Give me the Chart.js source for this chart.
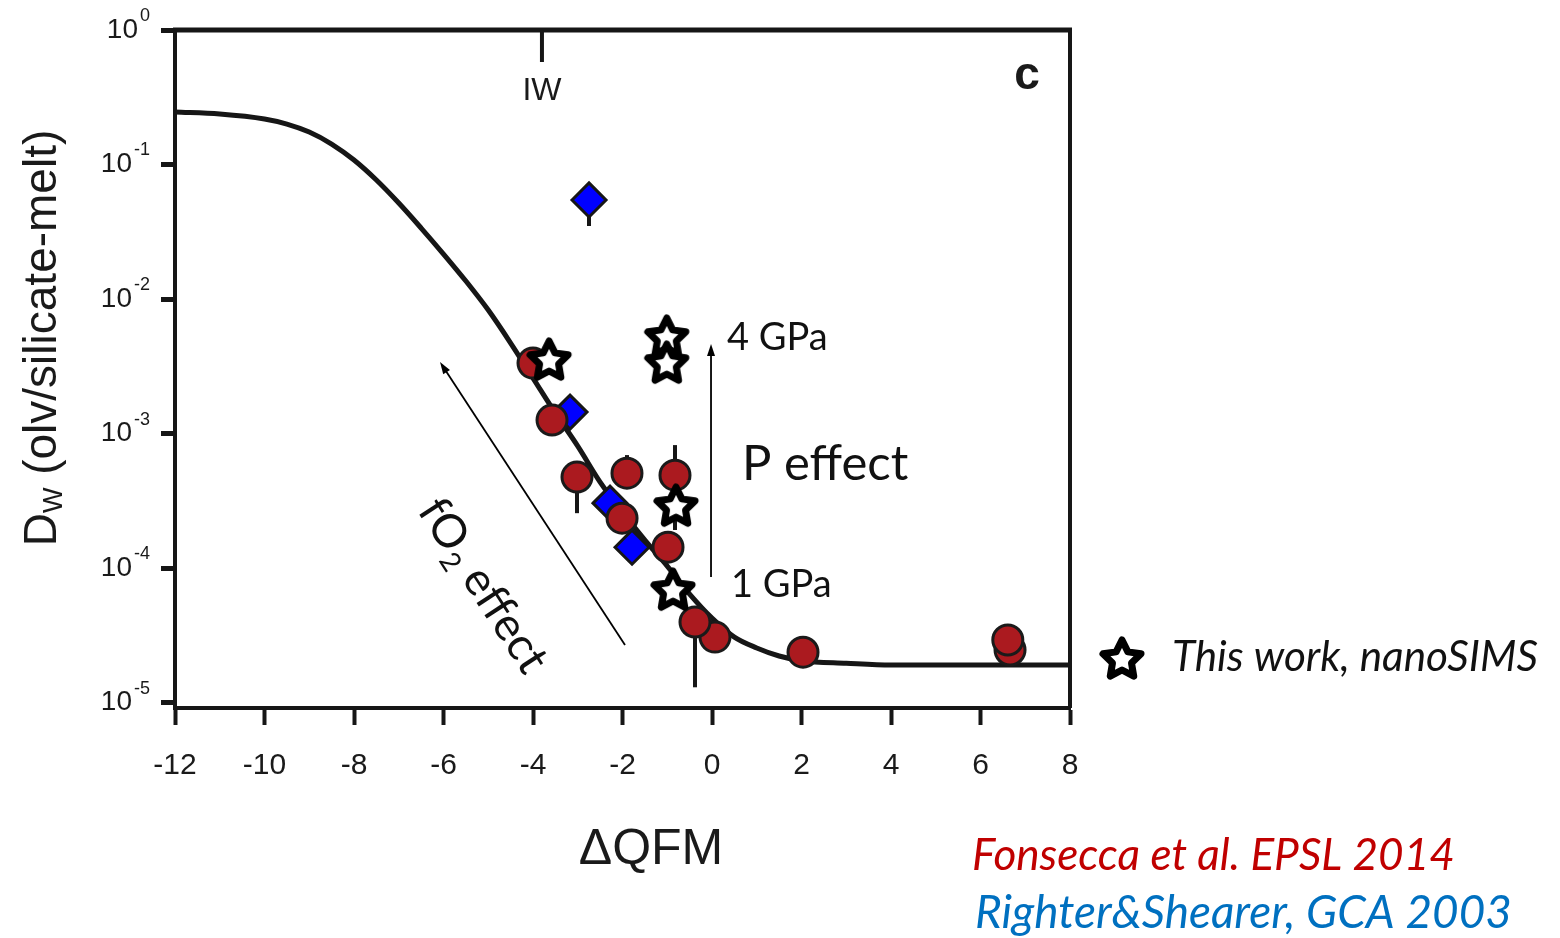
<!DOCTYPE html>
<html><head><meta charset="utf-8">
<script src="https://cdn.jsdelivr.net/npm/chart.js@4.4.1/dist/chart.umd.min.js"></script>
<style>html,body{margin:0;padding:0;background:#fff;}#wrap{position:relative;width:1560px;height:938px;}</style>
</head><body><div id="wrap"><canvas id="c"></canvas></div>
<script>
// ---------------- data ----------------
const xTicks = [-12, -10, -8, -6, -4, -2, 0, 2, 4, 6, 8];
const yTicks = [1e-5, 1e-4, 1e-3, 1e-2, 1e-1, 1];

// model curve D_w vs dQFM
const curveX = [-12, -11, -10, -9.5, -9, -8.5, -8, -7.5, -7, -6.5, -6, -5.5, -5, -4.5, -4, -3.5, -3, -2.5, -2, -1.5, -1, -0.5, 0, 0.5, 1, 1.5, 2, 3, 4, 8];
const curveY = [0.2457, 0.2374, 0.2180, 0.2000, 0.1744, 0.1420, 0.1080, 0.0767, 0.05173, 0.03372, 0.02161, 0.01361, 0.00828, 0.004709, 0.002586, 0.00142, 8.07e-4, 4.36e-4, 2.61e-4, 1.615e-4, 1.035e-4, 6.41e-5, 4.25e-5, 3.07e-5, 2.55e-5, 2.22e-5, 2.05e-5, 1.96e-5, 1.90e-5, 1.90e-5];

// Fonsecca et al. EPSL 2014 (red circles)
const fonsecaX = [-4.00, -3.575, -3.017, -1.90, -2.01, -0.827, -0.983, 0.067, -0.38, 2.034, 6.66, 6.61];
const fonsecaY = [3.34e-3, 1.26e-3, 4.75e-4, 5.08e-4, 2.35e-4, 4.91e-4, 1.43e-4, 3.07e-5, 3.97e-5, 2.37e-5, 2.46e-5, 2.92e-5];
const fonsecaErrLo = [null, null, 2.56e-4, null, null, 1.92e-4, null, null, 1.30e-5, null, null, null];
const fonsecaErrHi = [null, null, null, 6.92e-4, null, 8.21e-4, null, null, null, null, null, null];

// Righter & Shearer, GCA 2003 (blue diamonds)
const righterX = [-2.748, -3.173, -2.279, -1.787];
const righterY = [0.0545, 1.445e-3, 3.04e-4, 1.43e-4];
const righterErrLo = [0.0349, null, null, null];
const righterErrHi = [null, null, null, null];

// This work, nanoSIMS (stars)
const thisWorkX = [-3.64, -1.01, -1.01, -0.804, -0.871];
const thisWorkY = [3.58e-3, 5.31e-3, 3.40e-3, 2.94e-4, 6.98e-5];

// annotations (data coordinates)
const IW_QFM = -3.8;
const fo2Arrow = { x0: -1.944, y0: 2.68e-5, x1: -6.078, y1: 3.40e-3 };
const pArrow = { x0: -0.022, y0: 8.57e-5, x1: -0.022, y1: 4.63e-3 };

// ---------------- helpers ----------------
const AX = '#161616';
function makeStar() {
  const s = 60, c = document.createElement('canvas');
  c.width = s; c.height = s;
  const g = c.getContext('2d');
  const R = 20, r = 10;
  g.beginPath();
  for (let i = 0; i < 10; i++) {
    const a = -Math.PI / 2 + i * Math.PI / 5;
    const rr = i % 2 ? r : R;
    g.lineTo(s / 2 + rr * Math.cos(a), s / 2 + 2 + rr * Math.sin(a));
  }
  g.closePath();
  g.fillStyle = '#fff'; g.fill();
  g.lineJoin = 'round'; g.lineWidth = 7; g.strokeStyle = '#000'; g.stroke();
  return c;
}
const starImg = makeStar();
const pts = (xs, ys) => xs.map((x, i) => ({ x, y: ys[i] }));

function arrow(ctx, x0, y0, x1, y1, lw) {
  ctx.save();
  ctx.strokeStyle = '#000'; ctx.fillStyle = '#000'; ctx.lineWidth = lw;
  const a = Math.atan2(y1 - y0, x1 - x0), L = 12, W = 4;
  ctx.beginPath(); ctx.moveTo(x0, y0);
  ctx.lineTo(x1 - Math.cos(a) * L * 0.7, y1 - Math.sin(a) * L * 0.7); ctx.stroke();
  ctx.beginPath(); ctx.moveTo(x1, y1);
  ctx.lineTo(x1 - Math.cos(a) * L - Math.sin(a) * W, y1 - Math.sin(a) * L + Math.cos(a) * W);
  ctx.lineTo(x1 - Math.cos(a) * L + Math.sin(a) * W, y1 - Math.sin(a) * L - Math.cos(a) * W);
  ctx.closePath(); ctx.fill();
  ctx.restore();
}
function txt(ctx, s, x, y, font, color, align, base) {
  ctx.font = font; ctx.fillStyle = color || '#111';
  ctx.textAlign = align || 'left'; ctx.textBaseline = base || 'alphabetic';
  ctx.fillText(s, x, y);
}
// font size so that text reaches target width
function fitSize(ctx, s, pre, family, targetW) {
  ctx.font = pre + ' 100px ' + family;
  return 100 * targetW / ctx.measureText(s).width;
}
function errBars(ctx, xs, ys, lo, hi, sx, sy) {
  ctx.save(); ctx.strokeStyle = AX; ctx.lineWidth = 4;
  xs.forEach((x, i) => {
    if (lo[i] == null && hi[i] == null) return;
    const a = lo[i] == null ? ys[i] : lo[i];
    const b = hi[i] == null ? ys[i] : hi[i];
    const px = sx.getPixelForValue(x);
    ctx.beginPath(); ctx.moveTo(px, sy.getPixelForValue(a)); ctx.lineTo(px, sy.getPixelForValue(b)); ctx.stroke();
  });
  ctx.restore();
}

const annot = {
  id: 'annot',
  beforeDatasetsDraw(chart) {
    const { ctx, scales: { x: sx, y: sy } } = chart;
    errBars(ctx, fonsecaX, fonsecaY, fonsecaErrLo, fonsecaErrHi, sx, sy);
    errBars(ctx, righterX, righterY, righterErrLo, righterErrHi, sx, sy);
  },
  afterDraw(chart) {
    const { ctx, chartArea: ca, scales: { x: sx, y: sy } } = chart;
    ctx.save();
    // frame top / right
    ctx.strokeStyle = AX; ctx.lineCap = 'butt';
    ctx.lineWidth = 5; ctx.beginPath(); ctx.moveTo(ca.left - 2, ca.top); ctx.lineTo(ca.right + 2, ca.top); ctx.stroke();
    ctx.lineWidth = 4; ctx.beginPath(); ctx.moveTo(ca.right, ca.top); ctx.lineTo(ca.right, ca.bottom); ctx.stroke();

    // y tick labels 10^n
    sy.ticks.forEach(t => {
      const py = sy.getPixelForValue(t.value);
      const e = String(Math.round(Math.log10(t.value)));
      ctx.font = '18px "Liberation Sans"';
      const ew = ctx.measureText(e).width;
      const right = 150;
      txt(ctx, e, right - ew, py - 14, '18px "Liberation Sans"', '#1a1a1a', 'left', 'middle');
      txt(ctx, '10', right - ew - 2, py, '28px "Liberation Sans"', '#1a1a1a', 'right', 'middle');
    });

    // IW marker
    const iwx = sx.getPixelForValue(IW_QFM);
    ctx.lineWidth = 4; ctx.beginPath(); ctx.moveTo(iwx, ca.top); ctx.lineTo(iwx, ca.top + 32); ctx.stroke();
    txt(ctx, 'IW', iwx, 100, '32px "Liberation Sans"', '#1a1a1a', 'center', 'alphabetic');
    // panel letter
    txt(ctx, 'c', 1027, 89, 'bold 46px "Liberation Sans"', '#1a1a1a', 'center', 'alphabetic');

    // arrows
    arrow(ctx, sx.getPixelForValue(fo2Arrow.x0), sy.getPixelForValue(fo2Arrow.y0), sx.getPixelForValue(fo2Arrow.x1), sy.getPixelForValue(fo2Arrow.y1), 1.8);
    arrow(ctx, sx.getPixelForValue(pArrow.x0), sy.getPixelForValue(pArrow.y0), sx.getPixelForValue(pArrow.x1), sy.getPixelForValue(pArrow.y1), 1.8);

    // annotation texts
    const AF = 'Lato';
    txt(ctx, '4 GPa', 727, 350, '38px ' + AF, '#111');
    txt(ctx, '1 GPa', 731, 597, '38px ' + AF, '#111');
    txt(ctx, 'P effect', 742, 480, '49px ' + AF, '#111');

    // fO2 effect, rotated
    ctx.save();
    ctx.translate(484, 585); ctx.rotate(57 * Math.PI / 180);
    const big = '46px ' + AF, small = '28px ' + AF;
    ctx.font = big; const w1 = ctx.measureText('fO').width; const w3 = ctx.measureText(' effect').width;
    ctx.font = small; const w2 = ctx.measureText('2').width;
    let x0 = -(w1 + w2 + w3) / 2; const bl = 16;
    txt(ctx, 'fO', x0, bl, big, '#111'); x0 += w1;
    txt(ctx, '2', x0, bl + 9, small, '#111'); x0 += w2;
    txt(ctx, ' effect', x0, bl, big, '#111');
    ctx.restore();

    // legend entry for this work
    ctx.drawImage(starImg, 1122 - 30, 658 - 30);
    const lsz = fitSize(ctx, 'This work, nanoSIMS', 'italic', AF, 366);
    txt(ctx, 'This work, nanoSIMS', 1172, 671, 'italic ' + lsz + 'px ' + AF, '#111');

    // references
    const r1 = 'Fonsecca et al. EPSL 2014', r2 = 'Righter&Shearer, GCA 2003';
    txt(ctx, r1, 972, 870, 'italic ' + fitSize(ctx, r1, 'italic', AF, 483) + 'px ' + AF, '#c00000');
    txt(ctx, r2, 975, 928, 'italic ' + fitSize(ctx, r2, 'italic', AF, 537) + 'px ' + AF, '#0070c0');

    // x axis title
    txt(ctx, '\u0394QFM', 651, 864, '50px "Liberation Sans"', '#1a1a1a', 'center', 'alphabetic');

    // y axis title (rotated)
    ctx.save();
    ctx.translate(40, 338); ctx.rotate(-Math.PI / 2);
    const yf = '46px "Liberation Sans"', ys = '27px "Liberation Sans"';
    ctx.font = yf; const a1 = ctx.measureText('D').width, a3 = ctx.measureText(' (olv/silicate-melt)').width;
    ctx.font = ys; const a2 = ctx.measureText('W').width;
    let yx = -(a1 + a2 + a3) / 2; const ybl = 16;
    txt(ctx, 'D', yx, ybl, yf, '#1a1a1a'); yx += a1;
    txt(ctx, 'W', yx, ybl + 6, ys, '#1a1a1a'); yx += a2;
    txt(ctx, ' (olv/silicate-melt)', yx, ybl, yf, '#1a1a1a');
    ctx.restore();

    ctx.restore();
  }
};

new Chart(document.getElementById('c'), {
  type: 'scatter',
  data: {
    datasets: [
      { label: 'fit', data: pts(curveX, curveY), showLine: true, borderColor: AX, borderWidth: 5,
        pointRadius: 0, cubicInterpolationMode: 'monotone', order: 4 },
      { label: 'Righter&Shearer, GCA 2003', data: pts(righterX, righterY), pointStyle: 'rectRot', pointRadius: 17,
        backgroundColor: '#0000ff', borderColor: AX, borderWidth: 3, order: 3 },
      { label: 'Fonsecca et al. EPSL 2014', data: pts(fonsecaX, fonsecaY), pointStyle: 'circle', pointRadius: 15,
        backgroundColor: '#ab1a1f', borderColor: '#1a1a1a', borderWidth: 3, order: 2 },
      { label: 'This work, nanoSIMS', data: pts(thisWorkX, thisWorkY), pointStyle: starImg, pointRadius: 22, order: 1 }
    ]
  },
  options: {
    responsive: true, maintainAspectRatio: false, animation: false, events: [],
    layout: { padding: { left: 0, top: 30, right: 490, bottom: 0 } },
    plugins: { legend: { display: false }, tooltip: { enabled: false } },
    scales: {
      x: {
        type: 'linear', min: -12, max: 8,
        afterBuildTicks: s => { s.ticks = xTicks.map(v => ({ value: v })); },
        afterFit: s => { s.height = 230; },
        border: { display: true, width: 4, color: AX },
        grid: { drawOnChartArea: false, drawTicks: true, tickLength: 17, tickWidth: 4, tickColor: AX },
        ticks: { font: { family: 'Liberation Sans', size: 30 }, color: '#1a1a1a', padding: 23, maxRotation: 0, autoSkip: false,
          callback: v => String(v) }
      },
      y: {
        type: 'logarithmic', min: Math.pow(10, -5.04), max: 1,
        afterBuildTicks: s => { s.ticks = yTicks.map(v => ({ value: v })); },
        afterFit: s => { s.width = 175; },
        border: { display: true, width: 4, color: AX },
        grid: { drawOnChartArea: false, drawTicks: true, tickLength: 14, tickWidth: 5, tickColor: AX },
        ticks: { display: false }
      }
    }
  },
  plugins: [annot]
});
</script></body></html>
